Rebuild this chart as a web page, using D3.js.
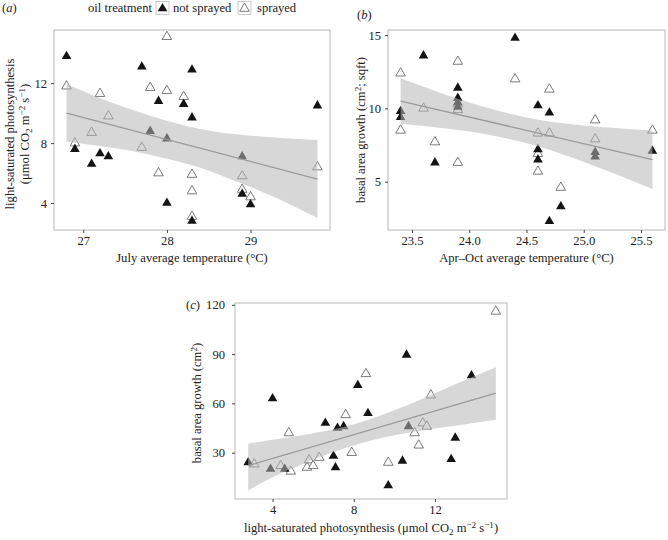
<!DOCTYPE html>
<html><head><meta charset="utf-8">
<script src="https://cdn.jsdelivr.net/npm/d3@7"></script>
<style>
body{margin:0;background:#fff}
svg{display:block}
text{font-family:"Liberation Serif","Times New Roman",serif;fill:#222}
</style>
</head><body>
<svg id="chart" width="668" height="540"></svg>
<script>
// ---------- data ----------
const seriesNames = ["not sprayed", "sprayed"];

// (a) July temperature vs light-saturated photosynthesis
const aNotSprayedX = [26.8, 26.9, 27.1, 27.2, 27.3, 27.7, 27.8, 27.9, 28.0, 28.0, 28.2, 28.3, 28.3, 28.3, 28.9, 28.9, 29.0, 29.8];
const aNotSprayedY = [13.8, 7.6, 6.6, 7.3, 7.1, 13.1, 8.8, 10.8, 8.3, 4.0, 10.6, 12.9, 9.7, 2.8, 7.1, 4.6, 3.9, 10.5];
const aSprayedX = [26.8, 26.9, 27.1, 27.2, 27.3, 27.7, 27.8, 27.9, 28.0, 28.0, 28.2, 28.3, 28.3, 28.3, 28.9, 28.9, 29.0, 29.8];
const aSprayedY = [11.8, 8.0, 8.7, 11.3, 9.8, 7.7, 11.7, 6.0, 15.1, 11.5, 11.1, 5.9, 4.8, 3.1, 5.8, 4.9, 4.4, 6.4];
const aFitX = [26.8, 29.8];
const aFitY = [10.0, 5.6];
const aBandX = [26.8, 27.2, 27.6, 28.0, 28.4, 28.8, 29.2, 29.8];
const aBandHi = [11.95, 11.0, 10.2, 9.5, 8.95, 8.6, 8.4, 8.2];
const aBandLo = [8.1, 7.8, 7.45, 6.95, 6.35, 5.5, 4.6, 3.0];
const aTicksX = [27, 28, 29];
const aTicksY = [4, 8, 12];

// (b) Apr–Oct temperature vs basal area growth
const bNotSprayedX = [23.4, 23.4, 23.6, 23.7, 23.9, 23.9, 23.9, 23.9, 24.4, 24.6, 24.6, 24.6, 24.7, 24.7, 24.8, 25.1, 25.1, 25.6];
const bNotSprayedY = [9.8, 9.4, 13.6, 6.3, 11.4, 10.7, 10.4, 10.1, 14.8, 10.2, 7.2, 6.5, 9.7, 2.3, 3.3, 7.0, 6.7, 7.1];
const bSprayedX = [23.4, 23.4, 23.6, 23.7, 23.9, 23.9, 23.9, 23.9, 24.4, 24.6, 24.6, 24.6, 24.7, 24.7, 24.8, 25.1, 25.1, 25.6];
const bSprayedY = [12.4, 8.5, 10.0, 7.7, 13.2, 10.3, 9.9, 6.3, 12.0, 8.3, 6.9, 5.7, 11.3, 8.3, 4.6, 9.2, 7.9, 8.5];
const bFitX = [23.4, 25.6];
const bFitY = [10.5, 6.5];
const bBandX = [23.4, 23.8, 24.2, 24.6, 25.0, 25.3, 25.6];
const bBandHi = [12.05, 10.92, 9.95, 9.22, 8.84, 8.65, 8.5];
const bBandLo = [8.95, 8.62, 8.15, 7.42, 6.34, 5.45, 4.5];
const bTicksX = [23.5, 24.0, 24.5, 25.0, 25.5];
const bTicksY = [5, 10, 15];

// (c) photosynthesis vs basal area growth
const cNotSprayedX = [2.8, 3.9, 4.0, 4.6, 6.6, 7.0, 7.1, 7.2, 7.5, 8.2, 8.7, 9.7, 10.4, 10.6, 10.7, 12.8, 13.0, 13.8];
const cNotSprayedY = [24, 20, 63, 20, 48, 28, 21, 45, 46, 71, 54, 10, 25, 89.5, 46, 26, 39, 77];
const cSprayedX = [3.1, 4.4, 4.8, 4.9, 5.7, 5.8, 6.0, 6.3, 7.6, 7.9, 8.6, 9.7, 11.0, 11.2, 11.4, 11.6, 11.8, 15.0];
const cSprayedY = [23, 22, 42, 18.6, 21, 25.5, 22, 27, 53, 30, 78, 24, 42, 34.5, 48, 46, 65, 116];
const cFitX = [2.8, 15.0];
const cFitY = [22.1, 66.3];
const cBandX = [2.8, 4, 5.5, 7, 8.5, 10, 11.5, 13, 15];
const cBandHi = [35.5, 37.8, 40.7, 44.2, 49.2, 55.8, 63.4, 71.6, 82.0];
const cBandLo = [7.0, 15.0, 23.1, 30.4, 36.2, 40.6, 43.8, 46.4, 50.0];
const cTicksX = [4, 8, 12];
const cTicksY = [30, 60, 90, 120];

// ---------- drawing ----------
const svg = d3.select("#chart");
const FONT = 12.6;
const triSize = 40;
const tri = d3.symbol().type(d3.symbolTriangle).size(triSize);

function rich(sel, parts, size) {
  let shift = 0;
  parts.forEach(([str, kind]) => {
    let target = kind === "sup" ? -4.5 : kind === "sub" ? 3 : 0;
    sel.append("tspan")
      .attr("dy", target - shift)
      .attr("font-size", kind === "n" ? size : size * 0.72)
      .text(str);
    shift = target;
  });
}

function panel(cfg) {
  const x = d3.scaleLinear().domain(cfg.xDomain).range([cfg.left, cfg.right]);
  const y = d3.scaleLinear().domain(cfg.yDomain).range([cfg.bottom, cfg.top]);
  const g = svg.append("g");

  g.append("rect")
    .attr("x", cfg.left).attr("y", cfg.top)
    .attr("width", cfg.right - cfg.left).attr("height", cfg.bottom - cfg.top)
    .attr("fill", "#fff").attr("stroke", "#b8b8b8").attr("stroke-width", 1);

  const sp = cfg.spX.map((v, i) => [v, cfg.spY[i]]);
  const ns = cfg.nsX.map((v, i) => [v, cfg.nsY[i]]);
  g.selectAll(".sp").data(sp).join("path")
    .attr("transform", d => `translate(${x(d[0])},${y(d[1])})`)
    .attr("d", tri)
    .attr("fill", "#fff").attr("stroke", "#5a5a5a").attr("stroke-width", 0.8);
  g.selectAll(".ns").data(ns).join("path")
    .attr("transform", d => `translate(${x(d[0])},${y(d[1])})`)
    .attr("d", tri)
    .attr("fill", "#141414");

  const band = cfg.bandX.map((v, i) => [v, cfg.bandLo[i], cfg.bandHi[i]]);
  g.append("path").datum(band)
    .attr("d", d3.area().x(d => x(d[0])).y0(d => y(d[1])).y1(d => y(d[2])).curve(d3.curveMonotoneX))
    .attr("fill", "rgb(182,182,182)").attr("fill-opacity", 0.55);
  const fit = cfg.fitX.map((v, i) => [v, cfg.fitY[i]]);
  g.append("path").datum(fit)
    .attr("d", d3.line().x(d => x(d[0])).y(d => y(d[1])))
    .attr("fill", "none").attr("stroke", "#9a9a9a").attr("stroke-width", 1.3);

  const ax = g.append("g").attr("transform", `translate(0,${cfg.bottom})`)
    .call(d3.axisBottom(x).tickValues(cfg.ticksX).tickFormat(cfg.fmtX).tickSize(3).tickSizeOuter(0).tickPadding(3));
  const ay = g.append("g").attr("transform", `translate(${cfg.left},0)`)
    .call(d3.axisLeft(y).tickValues(cfg.ticksY).tickFormat(cfg.fmtY).tickSize(3).tickSizeOuter(0).tickPadding(cfg.yPad));
  [ax, ay].forEach(a => {
    a.select(".domain").remove();
    a.selectAll(".tick line").attr("stroke", "#444");
    a.selectAll(".tick text").attr("font-family", '"Liberation Serif",serif').attr("font-size", FONT).attr("fill", "#2a2a2a");
  });

  const xt = g.append("text").attr("x", (cfg.left + cfg.right) / 2).attr("y", cfg.xTitleY)
    .attr("text-anchor", "middle").attr("font-size", FONT);
  rich(xt, cfg.xTitle, FONT);
  cfg.yTitles.forEach((parts, i) => {
    const t = g.append("text")
      .attr("transform", `translate(${cfg.yTitleX[i]},${cfg.yTitleCY}) rotate(-90)`)
      .attr("text-anchor", "middle").attr("font-size", FONT);
    rich(t, parts, FONT);
  });

  const tg = g.append("text").attr("x", cfg.tag[1]).attr("y", cfg.tag[2]).attr("font-size", FONT);
  tg.append("tspan").text("(");
  tg.append("tspan").attr("font-style", "italic").text(cfg.tag[0]);
  tg.append("tspan").text(")");
}

const f0 = d3.format("d");
const f1 = d3.format(".1f");
const photoUnits = [["(μmol CO", "n"], ["2", "sub"], [" m", "n"], ["−2", "sup"], [" s", "n"], ["−1", "sup"], [")", "n"]];

panel({
  left: 54, right: 330, top: 30, bottom: 230,
  xDomain: [26.65, 29.95], yDomain: [2.2, 15.55],
  nsX: aNotSprayedX, nsY: aNotSprayedY, spX: aSprayedX, spY: aSprayedY,
  fitX: aFitX, fitY: aFitY, bandX: aBandX, bandLo: aBandLo, bandHi: aBandHi,
  ticksX: aTicksX, ticksY: aTicksY, fmtX: f0, fmtY: f0, yPad: 4,
  xTitle: [["July average temperature (°C)", "n"]], xTitleY: 262,
  yTitles: [[["light-saturated photosynthesis", "n"]], photoUnits],
  yTitleX: [14, 29], yTitleCY: 134,
  tag: ["a", 2, 12]
});

panel({
  left: 388, right: 665, top: 30, bottom: 230,
  xDomain: [23.29, 25.71], yDomain: [1.7, 15.35],
  nsX: bNotSprayedX, nsY: bNotSprayedY, spX: bSprayedX, spY: bSprayedY,
  fitX: bFitX, fitY: bFitY, bandX: bBandX, bandLo: bBandLo, bandHi: bBandHi,
  ticksX: bTicksX, ticksY: bTicksY, fmtX: f1, fmtY: f0, yPad: 4,
  xTitle: [["Apr–Oct average temperature (°C)", "n"]], xTitleY: 262,
  yTitles: [[["basal area growth (cm", "n"], ["2", "sup"], ["; sqft)", "n"]]],
  yTitleX: [365], yTitleCY: 130,
  tag: ["b", 357, 19]
});

panel({
  left: 235, right: 507, top: 303, bottom: 499,
  xDomain: [2.15, 15.55], yDomain: [1.8, 121.1],
  nsX: cNotSprayedX, nsY: cNotSprayedY, spX: cSprayedX, spY: cSprayedY,
  fitX: cFitX, fitY: cFitY, bandX: cBandX, bandLo: cBandLo, bandHi: cBandHi,
  ticksX: cTicksX, ticksY: cTicksY, fmtX: f0, fmtY: f0, yPad: 7,
  xTitle: [["light-saturated photosynthesis ", "n"]].concat(photoUnits), xTitleY: 532,
  yTitles: [[["basal area growth (cm", "n"], ["2", "sup"], [")", "n"]]],
  yTitleX: [201], yTitleCY: 403,
  tag: ["c", 186, 309]
});

// ---------- legend ----------
const lg = svg.append("g");
lg.append("text").attr("x", 88).attr("y", 12).attr("font-size", FONT).text("oil treatment");
const keyX = [156, 238];
const labX = [173, 257];
seriesNames.forEach((name, i) => {
  lg.append("rect").attr("x", keyX[i]).attr("y", 1.5).attr("width", 13).attr("height", 13)
    .attr("fill", "#fff").attr("stroke", "#bdbdbd").attr("stroke-width", 0.8);
  lg.append("path").attr("transform", `translate(${keyX[i] + 6.5},${8.5})`).attr("d", tri)
    .attr("fill", i === 0 ? "#141414" : "#fff")
    .attr("stroke", i === 0 ? "none" : "#5a5a5a").attr("stroke-width", 0.8);
  lg.append("text").attr("x", labX[i]).attr("y", 12).attr("font-size", FONT).text(name);
});
</script>
</body></html>
